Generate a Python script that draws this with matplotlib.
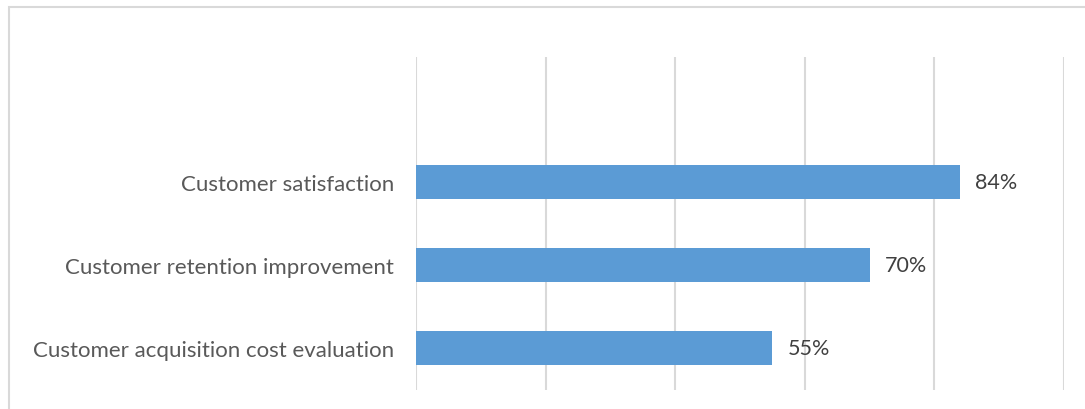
import matplotlib
matplotlib.use("Agg")
import matplotlib.pyplot as plt
from matplotlib.patches import Rectangle

categories = ["", "Customer satisfaction", "Customer retention improvement",
              "Customer acquisition cost evaluation"]
values = [None, 84, 70, 55]

plt.rcParams['font.family'] = ['Lato', 'DejaVu Sans']

fig = plt.figure(figsize=(10.85, 4.1), dpi=100)
ax = fig.add_axes([416 / 1085, 1 - 391 / 410, 648 / 1085, 333 / 410])

# outer chart border (only top and left are visible in the crop)
fig.patches.append(Rectangle((9 / 1085, -0.1), 1.2, 1 - 8 / 410 + 0.1,
                             transform=fig.transFigure, fill=False,
                             edgecolor='#D9D9D9', linewidth=1.5))

ypos = list(range(len(categories)))
for y, v in zip(ypos, values):
    if v is None:
        continue
    ax.barh(y, v, height=0.41, color='#5B9BD5', zorder=3)
    ax.text(v + 2.3, y, f"{v}%", va='center', ha='left',
            fontsize=15.5, color='#404040')

ax.set_xlim(0, 100)
ax.set_ylim(len(categories) - 0.5, -0.5)
ax.set_xticks([0, 20, 40, 60, 80, 100])
ax.xaxis.grid(True, color='#D9D9D9', linewidth=1.5, zorder=0)
ax.tick_params(axis='x', length=0, labelbottom=False)
ax.set_yticks(ypos)
ax.set_yticklabels(categories, fontsize=16, color='#595959')
ax.tick_params(axis='y', length=0, pad=16)
for s in ax.spines.values():
    s.set_visible(False)

fig.savefig("out.png", dpi=100)
